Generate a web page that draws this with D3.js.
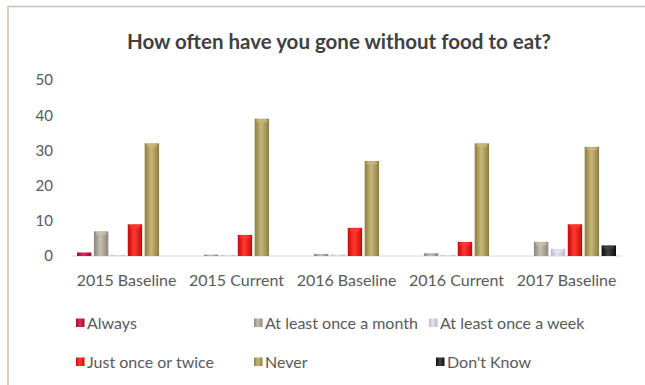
<!DOCTYPE html>
<html>
<head>
<meta charset="utf-8">
<script src="https://cdn.jsdelivr.net/npm/d3@7"></script>
<style>
  html, body { margin: 0; padding: 0; background: #fff; }
  svg { display: block; }
  text { font-family: Lato, "Open Sans", sans-serif; }
</style>
</head>
<body>
<svg id="chart" width="645" height="385"></svg>
<script>
// Survey responses per wave
const categories = ["2015 Baseline", "2015 Current", "2016 Baseline", "2016 Current", "2017 Baseline"];
const seriesNames = ["Always", "At least once a month", "At least once a week", "Just once or twice", "Never", "Don't Know"];
const always      = [1, 0, 0, 0, 0];
const monthly     = [7, 0.4, 0.6, 0.8, 4];
const weekly      = [0.3, 0.3, 0.4, 0.3, 2];
const onceTwice   = [9, 6, 8, 4, 9];
const never       = [32, 39, 27, 32, 31];
const dontKnow    = [0, 0, 0, 0, 3];
const yTicks      = [0, 10, 20, 30, 40, 50];
const title       = "How often have you gone without food to eat?";

const seriesValues = [always, monthly, weekly, onceTwice, never, dontKnow];
const colors = [
  { mid: "#d8305a", edge: "#9c0c2c" },
  { mid: "#c8c0b2", edge: "#8c8478" },
  { mid: "#e4e4ee", edge: "#b8b8cc" },
  { mid: "#ff3a30", edge: "#c80808" },
  { mid: "#c8b878", edge: "#8c7c40" },
  { mid: "#444444", edge: "#0c0c0c" }
];

const svg = d3.select("#chart");

// cylinder-like shading for each series
const defs = svg.append("defs");
colors.forEach((c, i) => {
  const g = defs.append("linearGradient").attr("id", "grad" + i)
    .attr("x1", "0%").attr("x2", "100%").attr("y1", "0%").attr("y2", "0%");
  g.append("stop").attr("offset", "0%").attr("stop-color", c.edge);
  g.append("stop").attr("offset", "45%").attr("stop-color", c.mid);
  g.append("stop").attr("offset", "100%").attr("stop-color", c.edge);
});

// frame
svg.append("path")
  .attr("d", "M8,385 L8,6.5 L645,6.5")
  .attr("fill", "none").attr("stroke", "#c9beb1").attr("stroke-width", 1.5);

// title
svg.append("text")
  .attr("x", 339).attr("y", 49)
  .attr("text-anchor", "middle")
  .attr("font-size", 20.5).attr("font-weight", "bold")
  .attr("fill", "#404040")
  .text(title);

const x0 = d3.scaleBand().domain(categories).range([71.5, 621.5])
  .paddingInner(0.1).paddingOuter(0.05);
const x1 = d3.scaleBand().domain(seriesNames).range([0, x0.bandwidth()])
  .paddingInner(0.15);
const y = d3.scaleLinear().domain([0, 50]).range([256, 80]);

// y axis labels only
const yAxis = d3.axisLeft(y).tickValues(yTicks).tickSize(0).tickPadding(0);
const gy = svg.append("g").attr("transform", "translate(53,0)").call(yAxis);
gy.select(".domain").remove();
gy.selectAll("text").attr("font-size", 15).attr("fill", "#595959")
  .attr("font-family", "Lato, sans-serif");

// x axis baseline and category labels
const xAxis = d3.axisBottom(x0).tickSize(0).tickPadding(19);
const gx = svg.append("g").attr("transform", `translate(0,${y(0)})`).call(xAxis);
gx.select(".domain").attr("stroke", "#d9d9d9").attr("stroke-width", 1)
  .attr("d", `M${x0.range()[0]},0H${x0.range()[1]}`);
gx.selectAll("text").attr("font-size", 16).attr("fill", "#595959")
  .attr("font-family", "Lato, sans-serif");

// bars
const groups = svg.append("g").selectAll("g")
  .data(categories)
  .join("g")
  .attr("transform", d => `translate(${x0(d)},0)`);

groups.selectAll("rect")
  .data((d, ci) => seriesNames.map((s, si) => ({ s, si, v: seriesValues[si][ci] })))
  .join("rect")
  .filter(d => d.v > 0)
  .attr("x", d => x1(d.s))
  .attr("y", d => y(d.v))
  .attr("width", x1.bandwidth())
  .attr("height", d => y(0) - y(d.v))
  .attr("fill", d => `url(#grad${d.si})`);

// bar top caps
groups.selectAll("ellipse")
  .data((d, ci) => seriesNames.map((s, si) => ({ s, si, v: seriesValues[si][ci] })).filter(d => d.v >= 2))
  .join("ellipse")
  .attr("cx", d => x1(d.s) + x1.bandwidth() / 2)
  .attr("cy", d => y(d.v) + 2)
  .attr("rx", x1.bandwidth() / 2 - 1.5)
  .attr("ry", 2)
  .attr("fill", d => colors[d.si].mid)
  .attr("opacity", 0.8);

// legend
const legendPos = [
  { x: 76, y: 323 }, { x: 254, y: 323 }, { x: 429, y: 323 },
  { x: 76, y: 362 }, { x: 254, y: 362 }, { x: 436, y: 362 }
];
const legend = svg.append("g").selectAll("g")
  .data(seriesNames)
  .join("g")
  .attr("transform", (d, i) => `translate(${legendPos[i].x},${legendPos[i].y})`);
legend.append("rect")
  .attr("x", 0).attr("y", -4.5).attr("width", 8.5).attr("height", 8.5)
  .attr("fill", (d, i) => `url(#grad${i})`);
legend.append("text")
  .attr("x", 11)
  .attr("y", 0).attr("dy", "0.35em")
  .attr("font-size", 16).attr("fill", "#595959")
  .text(d => d);
</script>
</body>
</html>
